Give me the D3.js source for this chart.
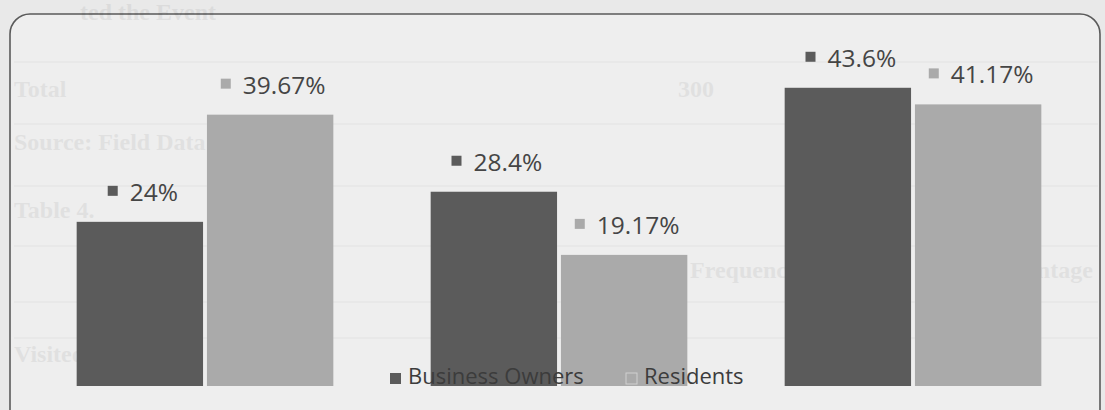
<!DOCTYPE html>
<html>
<head>
<meta charset="utf-8">
<style>
    body { margin: 0; background: #e9e9e9; }
    svg { display: block; }
    .label { font-family: "Open Sans", sans-serif; font-size: 24.5px; fill: #454545; }
    .legend text { font-family: "Open Sans", sans-serif; font-size: 22px; fill: #3c3c3c; }
    .ghost { font-family: "Liberation Serif", serif; font-weight: bold; font-size: 24px; fill: #000; opacity: 0.055; }
</style>
</head>
<body>
<svg width="1105" height="410"></svg>

<script src="https://cdn.jsdelivr.net/npm/d3@7"></script>
<script>
    // chart values
    let categories = ["Group 1", "Group 2", "Group 3"]
    let seriesNames = ["Business Owners", "Residents"]
    let businessOwners = [24, 28.4, 43.6]
    let residents = [39.67, 19.17, 41.17]
    let valueLabels = [["24%", "28.4%", "43.6%"], ["39.67%", "19.17%", "41.17%"]]
    let seriesColors = ["#5b5b5b", "#aaaaaa"]

    // faint table text showing through the scanned page
    let ghostText = [["ted the Event", 80, 20], ["Total", 14, 97], ["300", 678, 97],
        ["Source: Field Data", 14, 150], ["Table 4.", 14, 218],
        ["Frequency", 690, 278], ["Percentage", 980, 278], ["Visited", 14, 362]]
    let ghostLines = [62, 124, 186, 246, 302, 338]

    let svg = d3.select("svg")

    svg.append("rect")
        .attr("x", 10).attr("y", 14)
        .attr("width", 1090).attr("height", 420)
        .attr("rx", 20)
        .attr("fill", "#eeeeee")
        .attr("stroke", "#5a5a5a")
        .attr("stroke-width", 1.6)

    svg.selectAll(".gline")
        .data(ghostLines)
        .join("line")
        .attr("x1", 14).attr("x2", 1098)
        .attr("y1", d => d).attr("y2", d => d)
        .attr("stroke", "#000").attr("stroke-opacity", 0.025)
        .attr("stroke-width", 2)

    svg.selectAll(".ghost")
        .data(ghostText)
        .join("text")
        .attr("class", "ghost")
        .attr("x", d => d[1]).attr("y", d => d[2])
        .text(d => d[0])

    let x0 = d3.scaleBand()
        .domain(categories)
        .range([28, 1090])
        .paddingInner(0.275)
        .paddingOuter(0.1375)

    let x1 = d3.scaleBand()
        .domain(seriesNames)
        .range([0, x0.bandwidth()])
        .paddingInner(0.03)

    let y = d3.scaleLinear()
        .domain([0, 50])
        .range([386, 386 - 50 * 6.84])

    let color = d3.scaleOrdinal()
        .domain(seriesNames)
        .range(seriesColors)

    let seriesValues = [businessOwners, residents]
    let rows = []
    seriesNames.forEach((s, si) => {
        categories.forEach((c, ci) => {
            rows.push({series: s, cat: c, value: seriesValues[si][ci], label: valueLabels[si][ci]})
        })
    })

    svg.append("g")
        .selectAll("rect")
        .data(rows)
        .join("rect")
        .attr("x", d => x0(d.cat) + x1(d.series))
        .attr("y", d => y(d.value))
        .attr("width", x1.bandwidth())
        .attr("height", d => y(0) - y(d.value))
        .attr("fill", d => color(d.series))

    // data labels: small square + value
    let labels = svg.append("g")
        .selectAll("g")
        .data(rows)
        .join("g")

    labels.append("text")
        .attr("class", "label")
        .attr("y", d => y(d.value) - 21)
        .text(d => d.label)

    labels.each(function (d) {
        let g = d3.select(this)
        let t = g.select("text")
        let w = t.node().getComputedTextLength()
        let total = 10 + 12 + w
        let cx = x0(d.cat) + x1(d.series) + x1.bandwidth() / 2 + 3
        let left = cx - total / 2
        g.append("rect")
            .attr("x", left)
            .attr("y", y(d.value) - 21 - 15)
            .attr("width", 10).attr("height", 10)
            .attr("fill", color(d.series))
        t.attr("x", left + 22)
    })

    // legend
    let legend = svg.append("g").attr("class", "legend")
    let legendX = [390, 626]
    legend.selectAll("rect")
        .data(seriesNames)
        .join("rect")
        .attr("x", (d, i) => legendX[i])
        .attr("y", 373)
        .attr("width", 11).attr("height", 11)
        .attr("fill", d => color(d))
        .attr("stroke", (d, i) => i == 1 ? "#d0d0d0" : "none")

    legend.selectAll("text")
        .data(seriesNames)
        .join("text")
        .attr("x", (d, i) => legendX[i] + 18)
        .attr("y", 384)
        .text(d => d)
</script>
</body>
</html>
